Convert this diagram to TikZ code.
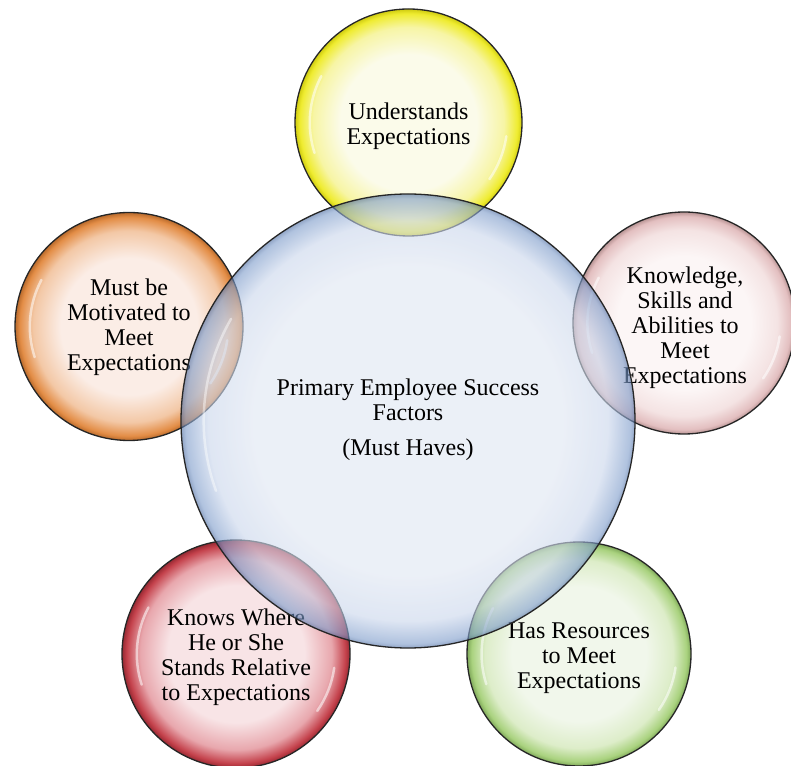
\documentclass[tikz,border=0pt]{standalone}
\usepackage{fontspec}
\setmainfont{Liberation Serif}
\definecolor{yin}{HTML}{FBFBEA}\definecolor{ymid}{HTML}{F7F5A5}\definecolor{yrim}{HTML}{EFEC30}\definecolor{yedge}{HTML}{CFCB10}
\definecolor{oin}{HTML}{FBEDE6}\definecolor{omid}{HTML}{F3C8A6}\definecolor{orim}{HTML}{E38D46}\definecolor{oedge}{HTML}{B86A2C}
\definecolor{pin}{HTML}{FCF6F6}\definecolor{pmid}{HTML}{F4E3E3}\definecolor{prim}{HTML}{E3BFC0}\definecolor{pedge}{HTML}{B89494}
\definecolor{rin}{HTML}{F8E4E6}\definecolor{rmid}{HTML}{E8A7AD}\definecolor{rrim}{HTML}{C4414B}\definecolor{redge}{HTML}{962A33}
\definecolor{gin}{HTML}{F1F7EB}\definecolor{gmid}{HTML}{DDEDC9}\definecolor{grim}{HTML}{A9D27E}\definecolor{gedge}{HTML}{7FA85A}
\definecolor{bin}{HTML}{DFE6F2}\definecolor{bmid}{HTML}{CBD7EC}\definecolor{brim}{HTML}{7F9DCB}\definecolor{bedge}{HTML}{4E6EA3}
\pgfdeclareradialshading{shyellow}{\pgfpoint{0bp}{0bp}}{color(0bp)=(yin); color(15bp)=(yin); color(21bp)=(ymid); color(24bp)=(yrim); color(25bp)=(yedge); color(50bp)=(yedge)}
\pgfdeclareradialshading{shorange}{\pgfpoint{0bp}{0bp}}{color(0bp)=(oin); color(15bp)=(oin); color(21bp)=(omid); color(24bp)=(orim); color(25bp)=(oedge); color(50bp)=(oedge)}
\pgfdeclareradialshading{shpink}{\pgfpoint{0bp}{0bp}}{color(0bp)=(pin); color(15bp)=(pin); color(21bp)=(pmid); color(24bp)=(prim); color(25bp)=(pedge); color(50bp)=(pedge)}
\pgfdeclareradialshading{shred}{\pgfpoint{0bp}{0bp}}{color(0bp)=(rin); color(15bp)=(rin); color(21bp)=(rmid); color(24bp)=(rrim); color(25bp)=(redge); color(50bp)=(redge)}
\pgfdeclareradialshading{shgreen}{\pgfpoint{0bp}{0bp}}{color(0bp)=(gin); color(15bp)=(gin); color(21bp)=(gmid); color(24bp)=(grim); color(25bp)=(gedge); color(50bp)=(gedge)}
\pgfdeclareradialshading{shblue}{\pgfpoint{0bp}{0bp}}{color(0bp)=(bin); color(17bp)=(bin); color(22bp)=(bmid); color(24.5bp)=(brim); color(25bp)=(bedge); color(50bp)=(bedge)}
\tikzset{
  bubble/.style={circle, inner sep=0pt, draw=black!85, line width=1.3pt},
  btext/.style={align=center, inner sep=0pt, font=\fontsize{24}{25}\selectfont},
  glare/.style={white, line width=2.5pt, line cap=round, opacity=0.55}
}
\begin{document}
\begin{tikzpicture}[x=1pt,y=1pt]
\useasboundingbox (0,0) rectangle (791,765);
% outer bubbles
\node[bubble, minimum size=227pt, shading=shyellow,
  label={[btext, name=undt, yshift=-4pt]center:{Understands\\Expectations}}] (und) at (408.5,642.5) {};
\node[bubble, minimum size=228pt, shading=shorange,
  label={[btext, name=mott, yshift=-1pt]center:{Must be\\Motivated to\\Meet\\Expectations}}] (mot) at (129,438.5) {};
\node[bubble, minimum size=222pt, shading=shpink,
  label={[btext, name=ksat, yshift=-5pt, xshift=1pt]center:{Knowledge,\\Skills and\\Abilities to\\Meet\\Expectations}}] (ksa) at (684,442) {};
\node[bubble, minimum size=228pt, shading=shred,
  label={[btext, name=knot, yshift=-3pt]center:{Knows Where\\He or She\\Stands Relative\\to Expectations}}] (kno) at (236,111) {};
\node[bubble, minimum size=224pt, shading=shgreen,
  label={[btext, name=rest, yshift=-4pt]center:{Has Resources\\to Meet\\Expectations}}] (res) at (579,111) {};
% glares
\foreach \n/\r in {und/113.5, mot/114, ksa/111, kno/114, res/112}{
  \draw[glare] (\n.center) ++(152:0.87*\r) arc[start angle=152, end angle=198, radius=0.87*\r];
  \draw[glare] (\n.center) ++(-35:0.87*\r) arc[start angle=-35, end angle=-8, radius=0.87*\r];
}
% central bubble
\node[bubble, minimum size=454pt, shading=shblue, fill opacity=0.62] (cen) at (408,344) {};
\node[btext] (cent) at (408,345) {Primary Employee Success\\Factors\\[10pt](Must Haves)};
\draw[glare, opacity=0.45] (cen.center) ++(150:0.9*227) arc[start angle=150, end angle=200, radius=0.9*227];
\end{tikzpicture}
\end{document}
